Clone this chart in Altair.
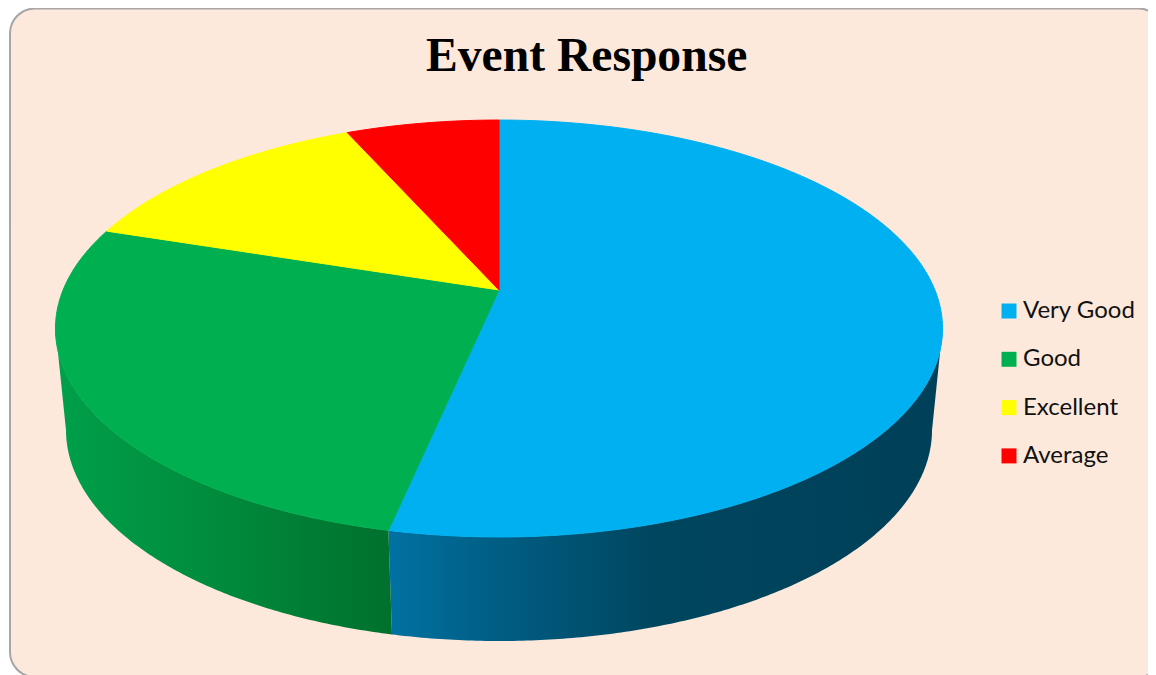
import math
import altair as alt
import pandas as pd

categories = ["Very Good", "Good", "Excellent", "Average"]
responses = [8, 4, 2, 1]
top_colors = ["#00B0F0", "#00B050", "#FFFF00", "#FF0000"]
title_text = "Event Response"

# Page-pixel frame of the drawing
W, H = 1140, 667
CX, APEX_Y, K, A, B, C = 499.0, 290.0, 0.1847, -147.8, 290.0, 435.9
BOTTOM_A, BOTTOM_B, BOTTOM_CY = 433.0, 211.0, 430.0


def top_point(deg):
    """Tilted circle: deg runs clockwise from 12 o'clock."""
    t = math.radians(deg)
    u, v = math.sin(t), math.cos(t)
    w = 1 + K * v
    return CX + C * u / w, (A * v + B) / w


def bottom_point(px):
    """Lower rim of the wall at the x of a rim point px."""
    d = max(-1.0, min(1.0, (px - CX) / BOTTOM_A))
    return BOTTOM_CY + BOTTOM_B * math.sqrt(1 - d * d)


total = sum(responses)
rows = []
start = 0.0
for cat, val in zip(categories, responses):
    end = start + 360.0 * val / total
    seq = 0
    rows.append(dict(cat=cat, i=seq, x=CX, y=APEX_Y))
    n = max(2, int(end - start) + 1)
    for j in range(n + 1):
        seq += 1
        px, py = top_point(start + (end - start) * j / n)
        rows.append(dict(cat=cat, i=seq, x=px, y=py))
    seq += 1
    rows.append(dict(cat=cat, i=seq, x=CX, y=APEX_Y))
    start = end

split = 360.0 * responses[0] / total
WALL_R, WALL_L = 100.6, 259.4


def wall(cat, a, b, shift):
    pts = []
    n = int(b - a) * 2
    for j in range(n + 1):
        pts.append(top_point(a + (b - a) * j / n))
    out = [dict(cat=cat, i=j, x=p[0], y=p[1]) for j, p in enumerate(pts)]
    m = len(out)
    for j, p in enumerate(reversed(pts)):
        sx = CX + (p[0] - CX) * BOTTOM_A / 443.5
        # rim seam between the two walls leans slightly outward
        if abs(p[0] - top_point(split)[0]) < 1e-6:
            sx += shift
        out.append(dict(cat=cat, i=m + j, x=sx, y=bottom_point(sx)))
    return out


blue_wall = pd.DataFrame(wall(categories[0], WALL_R, split, 1))
green_wall = pd.DataFrame(wall(categories[1], split, WALL_L, 1))
top = pd.DataFrame(rows)

xs = alt.Scale(domain=[8, 8 + W], range=[0, W])
ys = alt.Scale(domain=[8, 8 + H], range=[0, H])
X = alt.X("x:Q", scale=xs, axis=None)
Y = alt.Y("y:Q", scale=ys, axis=None)


def grad(stops):
    return alt.Gradient(
        gradient="linear", x1=0, x2=1, y1=0, y2=0,
        stops=[alt.GradientStop(offset=o, color=c) for o, c in stops],
    )


frame = alt.Chart(pd.DataFrame({"a": [0]})).mark_rect(
    cornerRadius=25, fill="#FDE9DB", stroke="#A6A6A6", strokeWidth=2
).encode(x=alt.value(2), x2=alt.value(1155), y=alt.value(0.5), y2=alt.value(669))

blue_side = alt.Chart(blue_wall).mark_line(
    fill=grad([(0, "#0072A3"), (0.17, "#006087"), (0.48, "#00465F"), (1, "#004058")]),
    strokeWidth=0,
).encode(x=X, y=Y, order="i:Q")

green_side = alt.Chart(green_wall).mark_line(
    fill=grad([(0, "#00A04A"), (0.5, "#008A3C"), (1, "#00702E")]),
    strokeWidth=0,
).encode(x=X, y=Y, order="i:Q")

color_scale = alt.Scale(domain=categories, range=top_colors)
pie = alt.Chart(top).mark_line(strokeWidth=1).encode(
    x=X, y=Y, order="i:Q",
    color=alt.Color(
        "cat:N", scale=color_scale, sort=categories,
        legend=alt.Legend(
            title=None, orient="none", legendX=989, legendY=291,
            symbolType="square", symbolSize=225, symbolStrokeWidth=0,
            labelFont="Lato", labelFontSize=24, labelColor="#111111",
            rowPadding=24.3, labelOffset=2, symbolOpacity=1,
        ),
    ),
    fill=alt.Fill("cat:N", scale=color_scale, sort=categories, legend=None),
)

chart = (
    alt.layer(frame, blue_side, green_side, pie)
    .properties(
        width=W, height=H, padding=0,
        autosize=alt.AutoSizeParams(type="none"),
        title=alt.TitleParams(
            text=title_text, font="Liberation Serif", fontSize=47.6,
            fontWeight="bold", color="#000000", anchor="start",
            dx=418, offset=-73,
        ),
    )
    .configure_view(stroke=None)
)

chart.save("out.html", embed_options={"renderer": "svg", "actions": False})
